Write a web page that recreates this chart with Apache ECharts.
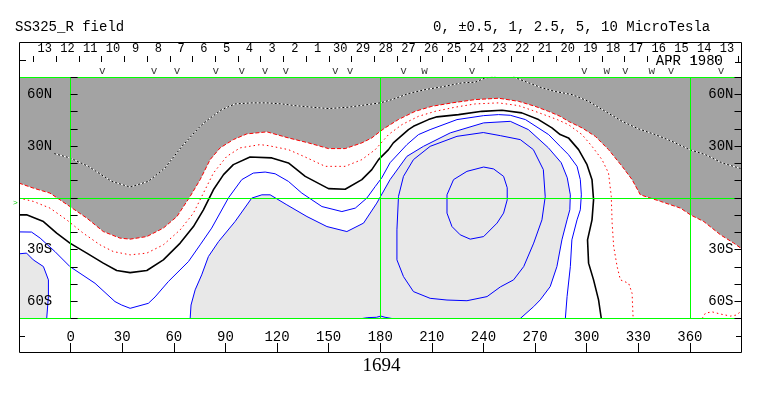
<!DOCTYPE html>
<html>
<head>
<meta charset="utf-8">
<script src="https://cdn.jsdelivr.net/npm/echarts@6/dist/echarts.min.js"></script>
<style>
html, body { margin: 0; padding: 0; background: #fff; }
#main { width: 763px; height: 396px; }
</style>
</head>
<body>
<div id="main"></div>
<script>
// source surface field, contours (lon, lat)
var dayLabels = ['13','12','11','10','9','8','7','6','5','4','3','2','1','30','29','28','27','26','25','24','23','22','21','20','19','18','17','16','15','14','13'];
var markerLon = [18.4, 48.5, 61.9, 84.4, 99.5, 113.1, 125.1, 153.8, 162.5, 193.5, 205.7, 233.3, 298.6, 311.7, 322.5, 337.9, 349.0, 378.1];
var markerType = ['v','v','v','v','v','v','v','v','v','v','w','v','v','w','v','w','v','v'];
var lonTicks = [0, 30, 60, 90, 120, 150, 180, 210, 240, 270, 300, 330, 360];
var latLabels = { '60': '60N', '30': '30N', '-30': '30S', '-60': '60S' };

// -2.5 (black/white dotted), two pieces
var contourM25a = [[-9.5,25.6],[-0.4,23.1],[10.3,18.2],[23.9,9.5],[34.6,6.2],[45.2,9.5],[54.9,17.3],[64.7,29.8],[75.3,41.4],[79.9,45.3],[87.9,51.1],[95.6,54.4],[105.3,55.0],[114.1,55.0],[122.8,54.4],[130.5,53.4],[140.3,52.5],[149.9,51.7],[161.5,52.5],[180.0,55.0],[186.8,56.9],[196.4,60.4],[206.1,62.7],[215.9,64.3],[227.5,66.6],[235.2,67.0],[241.1,69.5],[246.9,70]];
var contourM25b = [[257.5,70],[266.3,66.6],[274.0,63.7],[281.7,61.6],[291.5,59.8],[301.1,55.9],[310.8,50.1],[320.6,44.3],[330.2,39.9],[339.9,36.6],[349.6,32.7],[359.8,27.9],[369.0,25.0],[378.7,20.2],[390,16.8]];
// -1 (red dash, edge of dark shading)
var contourM1 = [[-30,8.5],[-21.7,5.6],[-12.0,2.7],[-0.4,-5.1],[9.4,-11.8],[19.0,-19.6],[28.7,-23.4],[34.6,-24.0],[44.3,-22.5],[53.9,-17.6],[61.8,-10.9],[69.5,0.8],[75.3,10.5],[81.1,22.1],[86.9,28.9],[94.6,33.7],[102.4,37.0],[114.1,38.2],[126.6,34.7],[138.3,31.8],[149.9,28.5],[159.6,28.5],[169.3,31.8],[175.1,34.7],[180.0,38.5],[182.8,40.5],[190.5,45.3],[200.3,50.1],[210.0,53.0],[221.7,55.0],[235.2,56.9],[248.8,57.7],[260.4,55.9],[270.0,53.0],[277.8,50.1],[284.6,47.2],[289.4,44.3],[297.3,40.5],[305.0,35.6],[312.7,27.9],[320.6,18.2],[326.4,10.5],[331.2,1.7],[342.9,-2.1],[354.5,-6.0],[360.3,-9.9],[368.1,-13.8],[377.8,-21.5],[385.5,-26.3],[390,-29.5]];
// -0.5 (red dotted)
var contourM05 = [[-30,-0.2],[-21.7,-2.1],[-12.0,-6.0],[-2.3,-12.8],[7.3,-20.5],[17.1,-27.3],[24.8,-31.2],[34.6,-33.1],[44.3,-32.1],[53.9,-27.3],[63.7,-18.6],[71.4,-8.9],[77.2,2.7],[83.0,14.3],[90.8,24.0],[98.5,28.9],[110.1,30.8],[115.0,30.2],[126.6,27.9],[136.4,23.6],[148.0,18.2],[159.6,18.2],[169.3,22.1],[177.1,27.9],[184.8,36.6],[192.6,42.4],[202.2,47.2],[212.0,50.1],[223.6,52.5],[235.2,54.4],[248.8,55.0],[260.4,53.4],[270.0,50.1],[277.8,47.2],[282.9,45.3],[289.4,42.4],[297.3,36.6],[303.1,29.8],[308.9,22.1],[312.7,14.3],[314.3,0.8],[314.8,-14.7],[315.7,-28.3],[317.7,-39.9],[319.6,-47.6],[324.4,-49.6],[326.4,-55.4],[327.0,-70]];
var contourM05b = [[367.1,-70],[369.1,-66.8],[373.1,-66.2],[377.7,-67.4],[383.6,-68.6],[387.0,-68.0],[390,-65.6]];
// 0 (neutral line)
var contour0 = [[-30,-9.9],[-25.6,-9.9],[-15.8,-13.8],[-8.1,-20.5],[-0.4,-26.3],[9.4,-32.1],[19.0,-37.9],[26.8,-42.2],[34.6,-43.4],[44.3,-42.2],[53.9,-36.0],[63.7,-26.3],[71.4,-16.7],[77.2,-7.0],[83.0,4.6],[88.9,13.4],[94.6,19.2],[104.3,23.6],[117.0,23.1],[126.6,20.2],[136.4,12.4],[149.9,5.3],[159.6,4.9],[169.3,10.5],[175.1,16.3],[179.0,22.1],[184.8,27.9],[187.6,31.8],[196.4,39.5],[199.3,41.4],[208.0,45.3],[213.0,46.9],[225.5,48.2],[239.1,50.1],[250.8,50.7],[262.3,49.2],[272.0,45.3],[279.8,40.5],[284.6,36.6],[289.4,34.7],[295.3,27.9],[300.2,19.2],[303.1,10.5],[304.0,-1.2],[303.1,-12.8],[300.5,-24.4],[301.1,-37.9],[304.0,-47.6],[306.9,-59.2],[308.5,-70]];
// +0.5
var contour05 = [[-30,-19.8],[-22.7,-19.9],[-17.7,-23.4],[-9.1,-31.2],[-0.4,-39.9],[14.2,-49.6],[25.8,-60.2],[29.7,-62.2],[34.6,-64.1],[45.2,-61.2],[49.1,-57.5],[56.8,-48.6],[68.5,-37.0],[75.3,-27.3],[82.0,-17.6],[91.8,0],[99.5,10.5],[106.2,14.3],[113.1,14.9],[118.9,13.9],[126.6,9.5],[134.4,2.7],[146.1,-5.1],[157.7,-8.0],[165.5,-6.0],[172.2,-0.2],[177.0,6.4],[180.9,11.6],[185.7,20.3],[195.5,30.8],[202.2,36.6],[209.0,39.5],[224.6,45.3],[240.1,47.6],[248.8,48.2],[255.6,47.8],[264.4,45.3],[277.9,36.6],[284.6,29.8],[289.4,25.0],[294.4,18.2],[296.3,10.5],[296.9,1.7],[296.3,-7.0],[294.4,-12.8],[291.4,-24.4],[290.5,-39.9],[288.6,-57.3],[287.6,-70]];
// +1 (edge of light shading)
var contour1 = [[69.5,-70],[70.0,-62.2],[72.4,-53.4],[76.2,-44.7],[80.1,-34.1],[86.0,-25.4],[95.6,-13.8],[105.3,-0.2],[111.2,1.7],[116.0,1.7],[125.7,-4.1],[137.4,-10.9],[149.0,-16.7],[160.6,-19.6],[170.3,-14.7],[178.0,-3.1],[185.7,10.5],[195.5,24.0],[205.1,29.8],[220.7,37.6],[240.1,43.4],[255.6,44.3],[266.1,39.5],[277.7,29.0],[285.2,20.3],[288.7,11.6],[290.5,1.7],[290.2,-7.0],[288.6,-12.8],[285.6,-24.4],[282.7,-39.9],[278.8,-51.5],[273.0,-59.2],[269.2,-63.1],[261.4,-70]];
var contour1Left = [[-30,-32.5],[-25.6,-32.1],[-21.7,-36.0],[-15.8,-39.9],[-12.9,-47.6],[-12.9,-57.3],[-13.9,-70]];
var contour1b = [[169.5,-70],[172.8,-69.5],[177.8,-69.3],[180.3,-68.6],[182.8,-69.3],[186.8,-70]];
// +2.5 and +5
var contour25 = [[239.9,37.8],[249.8,36.0],[261.4,33.7],[269.0,27.9],[274.8,16.3],[275.9,0.6],[274.0,-12.8],[269.2,-26.3],[263.4,-39.9],[257.5,-47.6],[249.8,-51.7],[242.1,-57.3],[230.4,-59.7],[218.8,-59.3],[209.0,-58.3],[199.3,-54.4],[193.5,-45.7],[189.7,-36.0],[189.7,-18.6],[190.6,0.8],[193.5,12.4],[199.3,22.1],[209.0,29.8],[224.6,35.6],[239.9,37.8]];
var contour5 = [[240.1,17.8],[245.9,16.7],[251.7,12.4],[253.8,5.8],[253.8,-1.2],[251.7,-8.9],[247.9,-14.7],[240.1,-22.5],[232.3,-24.0],[226.5,-21.5],[221.7,-16.7],[218.8,-8.9],[218.8,1.7],[222.6,10.5],[230.4,15.3],[240.1,17.8]];

var mono = 'Liberation Mono';
var dom = document.getElementById('main');
var myChart = echarts.init(dom);

var shades = [
    { pts: [[-30,70],[390,70]].concat(contourM1.slice().reverse()), color: '#a3a3a3' },
    { pts: contour1, color: '#e8e8e8' },
    { pts: contour1Left.concat([[-30,-70]]), color: '#e8e8e8' }
];

function contourLine(data, color, width, type) {
    return {
        type: 'line', xAxisIndex: 0, yAxisIndex: 0, data: data,
        showSymbol: false, symbol: 'none', silent: true, z: 3,
        lineStyle: { color: color, width: width, type: type }
    };
}

var series = [
    {
        type: 'custom', xAxisIndex: 0, yAxisIndex: 0, z: 1, silent: true,
        data: shades.map(function (s, i) { return [i]; }),
        renderItem: function (params, api) {
            var s = shades[params.dataIndex];
            return {
                type: 'polygon',
                shape: { points: s.pts.map(function (p) { return api.coord(p); }) },
                style: { fill: s.color, stroke: null }
            };
        },
        markLine: {
            silent: true, symbol: ['none', 'none'], label: { show: false },
            lineStyle: { color: '#00ff00', width: 1, type: 'solid' },
            data: [{ xAxis: 0 }, { xAxis: 180 }, { xAxis: 360 }, { yAxis: 70 }, { yAxis: 0 }, { yAxis: -70 }]
        }
    },
    contourLine(contourM25a, '#ffffff', 1, 'solid'),
    contourLine(contourM25a, '#000000', 1, [2, 2]),
    contourLine(contourM25b, '#ffffff', 1, 'solid'),
    contourLine(contourM25b, '#000000', 1, [2, 2]),
    contourLine(contourM1, '#ff0000', 1, [4, 2]),
    contourLine(contourM05, '#ff0000', 1, [1.5, 3]),
    contourLine(contourM05b, '#ff0000', 1, [1.5, 3]),
    contourLine(contour0, '#000000', 1.6, 'solid'),
    contourLine(contour05, '#0000ff', 1, 'solid'),
    contourLine(contour1, '#0000ff', 1, 'solid'),
    contourLine(contour1Left, '#0000ff', 1, 'solid'),
    contourLine(contour1b, '#0000ff', 1, 'solid'),
    contourLine(contour25, '#0000ff', 1, 'solid'),
    contourLine(contour5, '#0000ff', 1, 'solid'),
    {
        type: 'scatter', xAxisIndex: 0, yAxisIndex: 0, symbolSize: 0, clip: false, silent: true, z: 4,
        data: markerLon.map(function (l, i) { return { value: [l, 70], name: markerType[i] }; }),
        label: { show: true, position: 'top', distance: 0, formatter: '{b}', fontFamily: mono, fontSize: 11, color: '#000' }
    }
];

var latAxis = function (pos, margin) {
    return {
        gridIndex: 0, type: 'value', position: pos, min: -70, max: 70, interval: 10, z: 10,
        axisLine: { show: false }, splitLine: { show: false },
        axisTick: { show: true, inside: true, length: 7, lineStyle: { color: '#000' } },
        axisLabel: {
            inside: true, margin: margin, fontFamily: mono, fontSize: 14, color: '#000',
            formatter: function (v) { return latLabels[String(v)] || ''; }
        }
    };
};

option = {
    animation: false,
    backgroundColor: '#fff',
    title: [
        { text: 'SS325_R field', left: 15, top: 20, padding: 0,
          textStyle: { fontFamily: mono, fontSize: 14, fontWeight: 'normal', color: '#000' } },
        { text: '0, ±0.5, 1, 2.5, 5, 10 MicroTesla', left: 433, top: 20, padding: 0,
          textStyle: { fontFamily: mono, fontSize: 14, fontWeight: 'normal', color: '#000' } },
        { text: '1694', left: 'center', top: 357, padding: 0,
          textStyle: { fontFamily: 'Liberation Serif', fontSize: 19, fontWeight: 'normal', color: '#000' } }
    ],
    grid: [
        { left: 19, right: 21.5, top: 77, bottom: 77.5 },
        { left: 19, right: 21.5, top: 42, bottom: 44 },
        { left: 33.3, right: 24.7, top: 42, bottom: 340 }
    ],
    xAxis: [
        { gridIndex: 0, type: 'value', min: -30, max: 390, show: false },
        {
            gridIndex: 1, type: 'value', position: 'bottom', min: -30, max: 390, interval: 30,
            axisLine: { show: false }, splitLine: { show: false },
            axisTick: { show: true, inside: true, length: 9, lineStyle: { color: '#000' } },
            axisLabel: {
                inside: true, margin: 8, fontFamily: mono, fontSize: 14, color: '#000',
                formatter: function (v) { return lonTicks.indexOf(v) >= 0 ? String(v) : ''; }
            }
        },
        {
            gridIndex: 2, type: 'category', position: 'top', data: dayLabels, boundaryGap: true,
            axisLine: { show: false }, splitLine: { show: false },
            axisTick: { show: true, inside: true, length: 6, interval: 0, lineStyle: { color: '#000' } },
            axisLabel: { inside: true, interval: 0, margin: 1, fontFamily: mono, fontSize: 12, color: '#000' }
        }
    ],
    yAxis: [
        latAxis('left', 8),
        latAxis('right', 8),
        { gridIndex: 1, type: 'value', min: 0, max: 1, show: false },
        { gridIndex: 2, type: 'value', min: 0, max: 1, show: false }
    ],
    graphic: [
        { type: 'rect', z: 100, silent: true, shape: { x: 19.5, y: 42.5, width: 722, height: 310 },
          style: { fill: null, stroke: '#000', lineWidth: 1 } },
        { type: 'line', z: 100, shape: { x1: 19, y1: 60.5, x2: 26, y2: 60.5 }, style: { stroke: '#000' } },
        { type: 'line', z: 100, shape: { x1: 735, y1: 62.5, x2: 742, y2: 62.5 }, style: { stroke: '#000' } },
        { type: 'line', z: 100, shape: { x1: 19, y1: 336.5, x2: 25, y2: 336.5 }, style: { stroke: '#000' } },
        { type: 'line', z: 100, shape: { x1: 736, y1: 336.5, x2: 742, y2: 336.5 }, style: { stroke: '#000' } },
        { type: 'text', z: 100, x: 723, y: 61,
          style: { text: 'APR 1980', font: '14px "Liberation Mono"', fill: '#000',
                   align: 'right', verticalAlign: 'middle', textAlign: 'right', textVerticalAlign: 'middle' } },
        { type: 'text', z: 100, x: 13, y: 203,
          style: { text: '>', font: '8px "Liberation Mono"', fill: '#00cc00',
                   align: 'left', verticalAlign: 'middle', textAlign: 'left', textVerticalAlign: 'middle' } }
    ],
    series: series
};

if (option && typeof option === 'object') {
    myChart.setOption(option, true);
}
</script>
</body>
</html>
